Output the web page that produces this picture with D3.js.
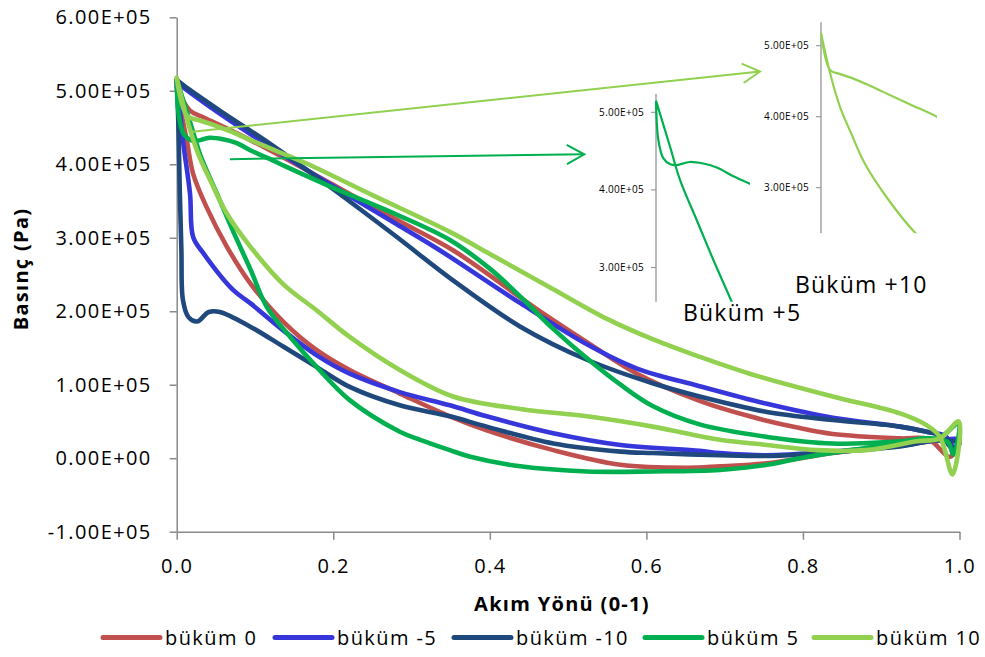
<!DOCTYPE html>
<html>
<head>
<meta charset="utf-8">
<script src="https://cdn.jsdelivr.net/npm/d3@7"></script>
<style>
  body { margin: 0; background: #fff; }
  text { font-family: "Open Sans", "Noto Sans", sans-serif; fill: #000; }
</style>
</head>
<body>
<svg id="chart" width="985" height="657"></svg>
<script>
// Pressure around each blade profile: [flow position (0-1), pressure (Pa)],
// running along the upper surface to the trailing edge and back along the lower one.
const bukum0 = [
  [0, 5.05e5], [0.017, 4.73e5], [0.034, 4.64e5], [0.077, 4.42e5], [0.119, 4.19e5],
  [0.2, 3.72e5], [0.28, 3.25e5], [0.353, 2.83e5], [0.46, 2.03e5], [0.524, 1.58e5],
  [0.588, 1.15e5], [0.668, 0.78e5], [0.732, 0.57e5], [0.796, 0.41e5], [0.838, 0.33e5],
  [0.924, 0.27e5], [0.96, 0.26e5], [0.988, 0.02e5], [0.998, 0.22e5],
  [0.975, 0.24e5], [0.924, 0.18e5], [0.838, 0.07e5], [0.754, -0.07e5], [0.694, -0.11e5],
  [0.652, -0.13e5], [0.567, -0.09e5], [0.481, 0.11e5], [0.396, 0.38e5], [0.349, 0.57e5],
  [0.285, 0.88e5], [0.221, 1.20e5], [0.179, 1.47e5], [0.136, 1.86e5], [0.094, 2.38e5],
  [0.064, 2.88e5], [0.038, 3.42e5], [0.021, 3.87e5], [0.013, 4.32e5], [0.004, 4.8e5], [0, 5.05e5]
];
const bukumM5 = [
  [0, 5.12e5], [0.008, 5.05e5], [0.055, 4.69e5], [0.119, 4.24e5], [0.2, 3.70e5],
  [0.28, 3.19e5], [0.336, 2.83e5], [0.439, 2.11e5], [0.524, 1.55e5], [0.588, 1.22e5],
  [0.668, 0.98e5], [0.754, 0.74e5], [0.838, 0.55e5], [0.924, 0.43e5], [0.958, 0.36e5],
  [0.982, 0.30e5], [0.993, 0.15e5], [1.0, 0.25e5],
  [0.975, 0.25e5], [0.924, 0.17e5], [0.838, 0.09e5], [0.754, 0.04e5], [0.694, 0.07e5],
  [0.668, 0.10e5], [0.567, 0.18e5], [0.481, 0.34e5], [0.396, 0.57e5], [0.349, 0.72e5],
  [0.285, 0.90e5], [0.221, 1.15e5], [0.179, 1.40e5], [0.136, 1.74e5], [0.094, 2.11e5],
  [0.072, 2.29e5], [0.034, 2.79e5], [0.021, 3.01e5], [0.017, 3.60e5], [0.008, 4.32e5],
  [0.004, 4.73e5], [0, 5.12e5]
];
const bukumM10 = [
  [0, 5.15e5], [0.008, 5.08e5], [0.055, 4.73e5], [0.119, 4.28e5], [0.2, 3.66e5],
  [0.28, 3.02e5], [0.353, 2.42e5], [0.439, 1.79e5], [0.524, 1.34e5], [0.608, 1.02e5],
  [0.668, 0.84e5], [0.754, 0.63e5], [0.838, 0.52e5], [0.924, 0.43e5], [0.958, 0.36e5],
  [0.978, 0.30e5], [0.99, 0.14e5], [1.0, 0.20e5],
  [0.975, 0.25e5], [0.924, 0.16e5], [0.86, 0.10e5], [0.796, 0.05e5], [0.754, 0.03e5],
  [0.694, 0.04e5], [0.608, 0.07e5], [0.567, 0.09e5], [0.481, 0.20e5], [0.396, 0.43e5],
  [0.349, 0.57e5], [0.285, 0.72e5], [0.221, 0.97e5], [0.179, 1.24e5], [0.136, 1.52e5],
  [0.094, 1.79e5], [0.055, 1.99e5], [0.041, 1.99e5], [0.026, 1.86e5], [0.015, 1.92e5],
  [0.008, 2.15e5], [0.006, 2.83e5], [0.004, 3.60e5], [0.002, 4.60e5], [0, 5.15e5]
];
const bukum5 = [
  [0, 5.15e5], [0.003, 4.64e5], [0.009, 4.41e5], [0.018, 4.33e5], [0.026, 4.32e5],
  [0.042, 4.36e5], [0.059, 4.34e5], [0.076, 4.29e5], [0.096, 4.18e5], [0.1175, 4.08e5],
  [0.141, 3.96e5], [0.2, 3.68e5], [0.28, 3.32e5], [0.349, 2.97e5], [0.40, 2.58e5],
  [0.439, 2.20e5], [0.481, 1.76e5], [0.524, 1.36e5], [0.567, 1.00e5], [0.608, 0.71e5],
  [0.668, 0.46e5], [0.754, 0.29e5], [0.838, 0.20e5], [0.924, 0.23e5], [0.96, 0.27e5],
  [0.985, 0.22e5], [0.992, 0.05e5], [0.999, 0.48e5],
  [0.975, 0.28e5], [0.953, 0.27e5], [0.924, 0.20e5], [0.86, 0.11e5], [0.796, 0.0],
  [0.754, -0.09e5], [0.694, -0.16e5], [0.608, -0.18e5], [0.524, -0.18e5], [0.439, -0.11e5],
  [0.375, 0.02e5], [0.349, 0.11e5], [0.311, 0.25e5], [0.285, 0.36e5], [0.221, 0.79e5],
  [0.179, 1.24e5], [0.145, 1.65e5], [0.115, 2.06e5], [0.0946, 2.56e5], [0.0716, 3.10e5],
  [0.051, 3.61e5], [0.03, 4.13e5], [0.0175, 4.56e5], [0, 5.15e5]
];
const bukum10 = [
  [0, 5.18e5], [0.013, 4.66e5], [0.028, 4.60e5], [0.046, 4.54e5], [0.068, 4.45e5],
  [0.09, 4.35e5], [0.13, 4.17e5], [0.168, 4.00e5], [0.25, 3.58e5], [0.349, 3.08e5],
  [0.40, 2.78e5], [0.481, 2.30e5], [0.549, 1.90e5], [0.608, 1.62e5], [0.668, 1.38e5],
  [0.732, 1.15e5], [0.838, 0.84e5], [0.924, 0.61e5], [0.958, 0.45e5], [0.975, 0.29e5],
  [0.991, -0.22e5], [0.999, 0.50e5],
  [0.975, 0.27e5], [0.945, 0.23e5], [0.881, 0.11e5], [0.818, 0.11e5], [0.754, 0.18e5],
  [0.694, 0.25e5], [0.608, 0.43e5], [0.524, 0.57e5], [0.439, 0.67e5], [0.353, 0.84e5],
  [0.285, 1.20e5], [0.221, 1.65e5], [0.179, 2.01e5], [0.136, 2.37e5], [0.094, 2.88e5],
  [0.064, 3.33e5], [0.043, 3.78e5], [0.0275, 4.14e5], [0.013, 4.62e5], [0, 5.18e5]
];

const seriesNames = ["büküm 0", "büküm -5", "büküm -10", "büküm 5", "büküm 10"];
const seriesData = [bukum0, bukumM5, bukumM10, bukum5, bukum10];
const seriesColors = ["#C0504D", "#3636DA", "#1F497D", "#00B050", "#92D050"];

const xTicks = [0, 0.2, 0.4, 0.6, 0.8, 1.0];
const xTickLabels = ["0.0", "0.2", "0.4", "0.6", "0.8", "1.0"];
const yTicks = [-1e5, 0, 1e5, 2e5, 3e5, 4e5, 5e5, 6e5];
const yTickLabels = ["-1.00E+05", "0.00E+00", "1.00E+05", "2.00E+05", "3.00E+05", "4.00E+05", "5.00E+05", "6.00E+05"];
const insetTicks = [3e5, 4e5, 5e5];
const insetTickLabels = ["3.00E+05", "4.00E+05", "5.00E+05"];

// Close-up panels of the leading edge for büküm 5 and büküm 10
const insets = [
  { series: 3, label: "Büküm +5", axisX: 656, right: 750, top: 94, bottom: 301.7,
    xMax: 0.1175, yMin: 2.56e5, yMax: 5.236e5, labelX: 683, labelY: 321,
    arrowFrom: [0.068, 4.07e5], arrowTo: [584.3, 154.3] },
  { series: 4, label: "Büküm +10", axisX: 821, right: 937, top: 22.3, bottom: 233.3,
    xMax: 0.168, yMin: 2.358e5, yMax: 5.33e5, labelX: 795, labelY: 293,
    arrowFrom: [0.017, 4.44e5], arrowTo: [760, 71.5] }
];

const legendX = [103, 275, 454, 645, 814];

const svg = d3.select("#chart");
const x = d3.scaleLinear().domain([0, 1]).range([176.7, 959.5]);
const y = d3.scaleLinear().domain([-1e5, 6e5]).range([531.7, 17.3]);
const axisColor = "#8a8a8a";

// Axes
const yAxis = svg.append("g")
  .attr("transform", `translate(${x(0)},0)`)
  .call(d3.axisLeft(y).tickValues(yTicks).tickFormat((d, i) => yTickLabels[i])
    .tickSize(7).tickSizeOuter(0).tickPadding(18));
const xAxis = svg.append("g")
  .attr("transform", `translate(0,${y(-1e5)})`)
  .call(d3.axisBottom(x).tickValues(xTicks).tickFormat((d, i) => xTickLabels[i])
    .tickSize(8).tickSizeOuter(0).tickPadding(19));
[yAxis, xAxis].forEach(g => {
  g.selectAll("path, line").attr("stroke", axisColor).attr("stroke-width", 1.5);
  g.selectAll("text").attr("font-size", 20).attr("letter-spacing", 1.4)
    .attr("font-family", "'Open Sans', sans-serif").attr("fill", "#000");
});

// Axis titles
svg.append("text")
  .attr("x", 562).attr("y", 611)
  .attr("text-anchor", "middle").attr("font-size", 20).attr("font-weight", "bold")
  .attr("letter-spacing", 1.3)
  .text("Akım Yönü (0-1)");
svg.append("text")
  .attr("transform", "translate(28,269) rotate(-90)")
  .attr("text-anchor", "middle").attr("font-size", 20).attr("font-weight", "bold")
  .attr("letter-spacing", 1.3)
  .text("Basınç (Pa)");

// Pressure curves
const line = d3.line()
  .x(d => x(d[0])).y(d => y(d[1]))
  .curve(d3.curveCatmullRom.alpha(0.5));

svg.append("g").selectAll("path")
  .data(seriesData)
  .join("path")
  .attr("d", line)
  .attr("fill", "none")
  .attr("stroke", (d, i) => seriesColors[i])
  .attr("stroke-width", 4.6)
  .attr("stroke-linejoin", "round")
  .attr("stroke-linecap", "round");

// Pointer arrows from the leading edge to the close-up panels
insets.forEach(ins => {
  const color = seriesColors[ins.series];
  const x0 = x(ins.arrowFrom[0]), y0 = y(ins.arrowFrom[1]);
  const [x1, y1] = ins.arrowTo;
  const ang = Math.atan2(y0 - y1, x0 - x1);
  const len = 20, spread = 29 * Math.PI / 180;
  const g = svg.append("g").attr("stroke", color).attr("stroke-width", 2).attr("fill", "none");
  g.append("line").attr("x1", x0).attr("y1", y0).attr("x2", x1).attr("y2", y1);
  g.append("polyline").attr("points", [
    [x1 + len * Math.cos(ang + spread), y1 + len * Math.sin(ang + spread)],
    [x1, y1],
    [x1 + len * Math.cos(ang - spread), y1 + len * Math.sin(ang - spread)]
  ].map(p => p.join(",")).join(" "));
});

// Close-up panels
insets.forEach((ins, k) => {
  const ix = d3.scaleLinear().domain([0, ins.xMax]).range([ins.axisX, ins.right]);
  const iy = d3.scaleLinear().domain([ins.yMin, ins.yMax]).range([ins.bottom, ins.top]);
  const g = svg.append("g");
  g.append("clipPath").attr("id", "inset-clip-" + k)
    .append("rect")
    .attr("x", ins.axisX - 3).attr("y", ins.top - 3)
    .attr("width", ins.right - ins.axisX + 3).attr("height", ins.bottom - ins.top + 3);
  g.append("line")
    .attr("x1", ins.axisX).attr("x2", ins.axisX)
    .attr("y1", ins.top).attr("y2", ins.bottom)
    .attr("stroke", "#8c8c8c").attr("stroke-width", 1.2);
  insetTicks.forEach((t, i) => {
    g.append("line")
      .attr("x1", ins.axisX - 5).attr("x2", ins.axisX)
      .attr("y1", iy(t)).attr("y2", iy(t))
      .attr("stroke", "#8c8c8c").attr("stroke-width", 1);
    g.append("text")
      .attr("x", ins.axisX - 12).attr("y", iy(t)).attr("dy", "0.35em")
      .attr("text-anchor", "end").attr("font-size", 10).attr("letter-spacing", 0.3)
      .attr("fill", "#222")
      .text(insetTickLabels[i]);
  });
  const iline = d3.line()
    .x(d => ix(d[0])).y(d => iy(d[1]))
    .curve(d3.curveCatmullRom.alpha(0.5));
  g.append("path")
    .attr("clip-path", `url(#inset-clip-${k})`)
    .attr("d", iline(seriesData[ins.series].filter(d => d[0] <= ins.xMax * 1.6)))
    .attr("fill", "none")
    .attr("stroke", seriesColors[ins.series])
    .attr("stroke-width", 2.2)
    .attr("stroke-linejoin", "round");
  g.append("text")
    .attr("x", ins.labelX).attr("y", ins.labelY)
    .attr("font-size", 23).attr("letter-spacing", 1.2)
    .text(ins.label);
});

// Legend
const legend = svg.append("g");
seriesNames.forEach((name, i) => {
  legend.append("line")
    .attr("x1", legendX[i]).attr("x2", legendX[i] + 57)
    .attr("y1", 637.5).attr("y2", 637.5)
    .attr("stroke", seriesColors[i]).attr("stroke-width", 5)
    .attr("stroke-linecap", "round");
  legend.append("text")
    .attr("x", legendX[i] + 62).attr("y", 645)
    .attr("font-size", 20).attr("letter-spacing", 1.4)
    .text(name);
});
</script>
</body>
</html>
